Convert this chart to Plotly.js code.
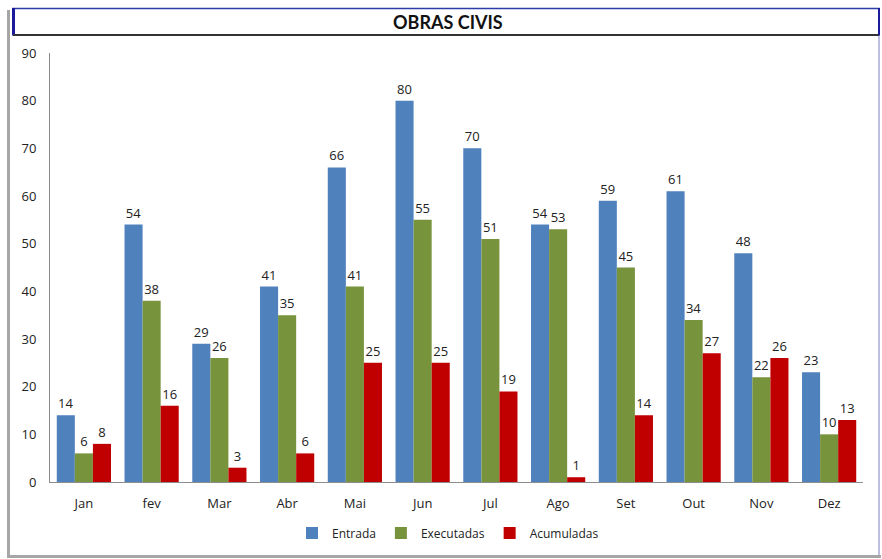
<!DOCTYPE html>
<html>
<head>
<meta charset="utf-8">
<script src="https://cdn.plot.ly/plotly-3.0.1.min.js"></script>
<style>
  html, body { margin: 0; padding: 0; background: #fff; }
  #chart { width: 882px; height: 559px; }
</style>
</head>
<body>
<div id="chart"></div>
<script>
const months = ["Jan", "fev", "Mar", "Abr", "Mai", "Jun", "Jul", "Ago", "Set", "Out", "Nov", "Dez"];
const entrada = [14, 54, 29, 41, 66, 80, 70, 54, 59, 61, 48, 23];
const executadas = [6, 38, 26, 35, 41, 55, 51, 53, 45, 34, 22, 10];
const acumuladas = [8, 16, 3, 6, 25, 25, 19, 1, 14, 27, 26, 13];
const seriesNames = ["Entrada", "Executadas", "Acumuladas"];
const chartTitle = "OBRAS CIVIS";

const W = 882, H = 559;
const L = 50, R = 863, T = 53, B = 482;
const px = x => (x - L) / (R - L);
const py = y => (B - y) / (B - T);

const FONT = "'Open Sans', 'DejaVu Sans', sans-serif";
const TFONT = "Lato, 'Open Sans', sans-serif";
const colors = ["#4F81BD", "#77933C", "#C00000"];
const values = [entrada, executadas, acumuladas];

const traces = values.map((v, i) => ({
  type: "bar",
  name: seriesNames[i],
  x: months,
  y: v,
  marker: { color: colors[i], line: { width: 0 } },
  text: v.map(String),
  textposition: "outside",
  textfont: { family: FONT, size: 13, color: "#222" },
  cliponaxis: false,
  hoverinfo: "x+y+name"
}));

const shapes = [
  { type: "line", xref: "paper", yref: "paper", x0: px(8.5), x1: px(8.5), y0: py(10), y1: py(557), line: { color: "#A6A6A6", width: 3 } },
  { type: "line", xref: "paper", yref: "paper", x0: px(7), x1: px(881), y0: py(556.5), y1: py(556.5), line: { color: "#A6A6A6", width: 3 } },
  { type: "line", xref: "paper", yref: "paper", x0: px(879), x1: px(879), y0: py(35), y1: py(555), line: { color: "#7F7FBF", width: 1 } },
  { type: "rect", xref: "paper", yref: "paper", x0: px(13), x1: px(879), y0: py(8.5), y1: py(35), fillcolor: "#fff", line: { color: "#2E3BA8", width: 1.5 } },
  { type: "line", xref: "paper", yref: "paper", x0: px(13.5), x1: px(13.5), y0: py(8), y1: py(35), line: { color: "#1A1A9A", width: 3 } },
  { type: "line", xref: "paper", yref: "paper", x0: px(13), x1: px(879), y0: py(35), y1: py(35), line: { color: "#333333", width: 2 } },
  { type: "line", xref: "paper", yref: "paper", x0: px(879), x1: px(879), y0: py(8), y1: py(35), line: { color: "#1A1A9A", width: 2 } }
];

const layout = {
  width: W, height: H,
  margin: { l: L, r: W - R, t: T, b: H - B, pad: 0 },
  paper_bgcolor: "#fff",
  plot_bgcolor: "#fff",
  font: { family: FONT, size: 12, color: "#222" },
  barmode: "group",
  bargap: 0.2,
  bargroupgap: 0,
  showlegend: true,
  legend: {
    orientation: "h",
    x: px(448), xanchor: "center",
    y: py(533), yanchor: "middle",
    font: { family: FONT, size: 12, color: "#222" },
    itemwidth: 30,
    tracegroupgap: 0,
    bgcolor: "rgba(0,0,0,0)"
  },
  xaxis: {
    type: "category",
    showline: true, linecolor: "#8C8C8C", linewidth: 1,
    showgrid: false, zeroline: false,
    ticks: "", ticklabelstandoff: 9,
    tickfont: { family: FONT, size: 13, color: "#222" },
    fixedrange: true
  },
  yaxis: {
    range: [0, 90], dtick: 10, tick0: 0,
    showline: true, linecolor: "#8C8C8C", linewidth: 1,
    showgrid: false, zeroline: false,
    ticks: "", ticklabelstandoff: 10,
    tickfont: { family: FONT, size: 13, color: "#222" },
    fixedrange: true
  },
  shapes: shapes,
  annotations: [
    {
      xref: "paper", yref: "paper",
      x: px(448), y: py(22),
      xanchor: "center", yanchor: "middle",
      text: "<b>" + chartTitle + "</b>",
      showarrow: false,
      font: { family: TFONT, size: 18, color: "#111" }
    }
  ]
};

Plotly.newPlot("chart", traces, layout, { displayModeBar: false, staticPlot: true });
</script>
</body>
</html>
